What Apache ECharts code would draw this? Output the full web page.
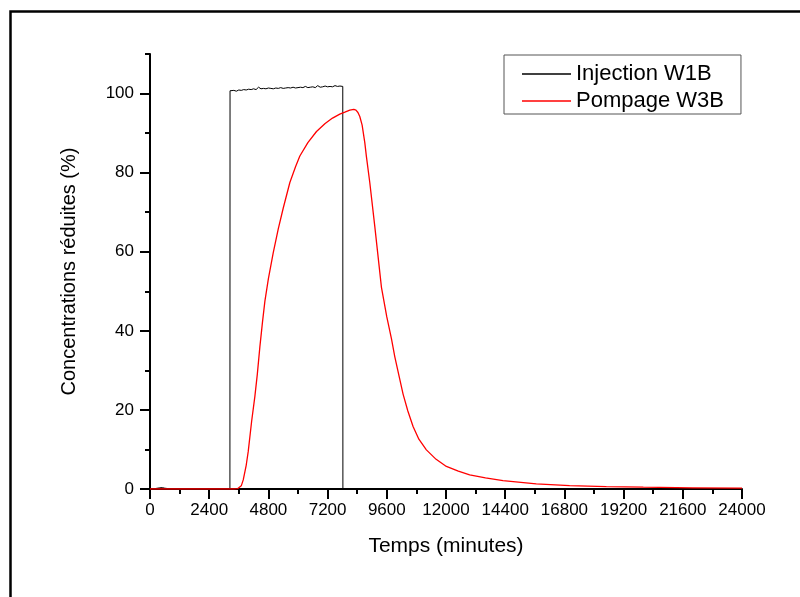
<!DOCTYPE html>
<html>
<head>
<meta charset="utf-8">
<script src="https://cdn.jsdelivr.net/npm/echarts@6/dist/echarts.min.js"></script>
<style>html,body{margin:0;padding:0;background:#fff;}#c{width:800px;height:597px;}</style>
</head>
<body>
<div id="c"></div>
<script>
// Tick labels
var xTicks = [0, 2400, 4800, 7200, 9600, 12000, 14400, 16800, 19200, 21600, 24000];
var yMajor = [0, 20, 40, 60, 80, 100];
var yMinor = [10, 30, 50, 70, 90, 110];

// Injection W1B (time in minutes, reduced concentration %)
var injectionTime = [0, 200, 400, 500, 600, 800, 1200, 1800, 2400, 3000, 3240, 3245,
  3300, 3400, 3500, 3600, 3700, 3800, 3900, 4000, 4100, 4200, 4300, 4400, 4500, 4600,
  4700, 4800, 4900, 5000, 5100, 5200, 5300, 5400, 5500, 5600, 5700, 5800, 5900, 6000,
  6100, 6200, 6300, 6400, 6500, 6600, 6700, 6800, 6900, 7000, 7100, 7200, 7300, 7400,
  7500, 7600, 7700, 7815, 7820, 8000, 9000, 10000,
  12000, 14000, 16000, 18000, 20000, 22000, 24000];
var injectionValue = [0, 0.1, 0.3, 0.35, 0.2, 0.05, 0, 0, 0, 0, 0, 100.7,
  100.5, 100.8, 100.6, 100.9, 100.8, 101.0, 100.9, 101.1, 101.0, 101.2, 101.0, 101.6, 101.2, 101.3,
  101.2, 101.4, 101.3, 101.2, 101.4, 101.3, 101.5, 101.3, 101.4, 101.5, 101.4, 101.6, 101.4, 101.5,
  101.6, 101.5, 101.8, 101.5, 101.6, 101.7, 101.5, 102.0, 101.6, 101.7, 101.9, 101.7, 101.8, 101.7,
  102.0, 101.8, 101.9, 101.8, 0, 0, 0.05, 0,
  0, 0, 0, 0.05, 0, 0, 0];

// Pompage W3B
var pompageTime = [0, 1000, 2000, 3000, 3400, 3560, 3700, 3780, 3900, 3983, 4118, 4253,
  4350, 4455, 4560, 4658, 4800, 4995, 5200, 5400, 5670, 5900, 6075, 6400, 6750, 7100, 7400,
  7695, 7900, 8100, 8262, 8350, 8430, 8505, 8600, 8708, 8775, 8910, 9113, 9383, 9600, 9788, 9923,
  10100, 10260, 10450, 10665, 10900, 11205, 11600, 12015, 12500, 12960, 13600, 14310, 15660,
  17010, 18500, 20000, 22000, 24000];
var pompageValue = [0, 0.05, 0, 0, 0, 0.1, 0.8, 2.3, 6, 9.5, 17, 23.5,
  29, 36, 42.2, 47.5, 53.2, 59.7, 65.8, 71, 77.5, 81.5, 84.2, 87.6, 90.4, 92.4, 93.8,
  94.8, 95.3, 95.8, 96, 95.8, 95.2, 94.2, 92, 87.6, 84, 77.5, 66.4, 51, 43.5, 38, 33.5,
  28.5, 24, 19.8, 15.8, 12.6, 9.9, 7.5, 5.7, 4.5, 3.6, 2.8, 2.1, 1.3,
  0.85, 0.6, 0.45, 0.3, 0.2];

function pairs(t, v) { return t.map(function (x, i) { return [x, v[i]]; }); }

var FONT = 'Liberation Sans';
var chart = echarts.init(document.getElementById('c'), null, {renderer: 'canvas'});
chart.setOption({
  animation: false,
  backgroundColor: '#fff',
  textStyle: {fontFamily: FONT},
  graphic: [{
    type: 'rect', left: 8, top: 9,
    shape: {x: 0, y: 0, width: 900, height: 700},
    style: {fill: 'none', stroke: '#000', lineWidth: 2.5},
    silent: true, z: -10
  }],
  grid: {left: 150, top: 54, right: 58, bottom: 108, containLabel: false},
  legend: {
    orient: 'vertical', left: 504, top: 55, icon: 'rect',
    backgroundColor: '#fff', borderColor: '#555', borderWidth: 1,
    padding: [8, 17, 2, 18], itemWidth: 49, itemHeight: 1.3, itemGap: 5,
    textStyle: {fontFamily: FONT, fontSize: 22, color: '#000', lineHeight: 22},
    data: ['Injection W1B', 'Pompage W3B']
  },
  xAxis: {
    type: 'value', min: 0, max: 24000, interval: 2400,
    name: 'Temps (minutes)', nameLocation: 'middle', nameGap: 47,
    nameTextStyle: {fontFamily: FONT, fontSize: 21, color: '#000'},
    axisLine: {show: true, onZero: false, lineStyle: {color: '#000', width: 2}},
    axisTick: {show: true, inside: false, length: 10, lineStyle: {color: '#000', width: 2}},
    minorTick: {show: true, splitNumber: 2, length: 5, lineStyle: {color: '#000', width: 2}},
    axisLabel: {fontFamily: FONT, fontSize: 17, color: '#000', margin: 13,
      formatter: function (v) { return String(v); }},
    splitLine: {show: false}
  },
  yAxis: [{
    type: 'value', min: 0, max: 110,
    name: 'Concentrations réduites (%)', nameLocation: 'middle', nameGap: 71,
    nameTextStyle: {fontFamily: FONT, fontSize: 20, color: '#000'},
    axisLine: {show: true, onZero: false, lineStyle: {color: '#000', width: 2}},
    axisTick: {show: true, inside: false, length: 10, customValues: yMajor, lineStyle: {color: '#000', width: 2}},
    axisLabel: {fontFamily: FONT, fontSize: 17, color: '#000', margin: 16, customValues: yMajor},
    splitLine: {show: false}
  }, {
    type: 'value', min: 0, max: 110, position: 'left',
    axisLine: {show: false},
    axisTick: {show: true, inside: false, length: 5, customValues: yMinor, lineStyle: {color: '#000', width: 2}},
    axisLabel: {show: false},
    splitLine: {show: false}
  }],
  series: [{
    name: 'Injection W1B', type: 'line', yAxisIndex: 0,
    data: pairs(injectionTime, injectionValue),
    symbol: 'none', lineStyle: {color: '#000', width: 1}, itemStyle: {color: '#000'}, z: 2
  }, {
    name: 'Pompage W3B', type: 'line', yAxisIndex: 0,
    data: pairs(pompageTime, pompageValue),
    symbol: 'none', lineStyle: {color: '#ff0000', width: 1.3}, itemStyle: {color: '#ff0000'}, z: 3
  }]
});
</script>
</body>
</html>
